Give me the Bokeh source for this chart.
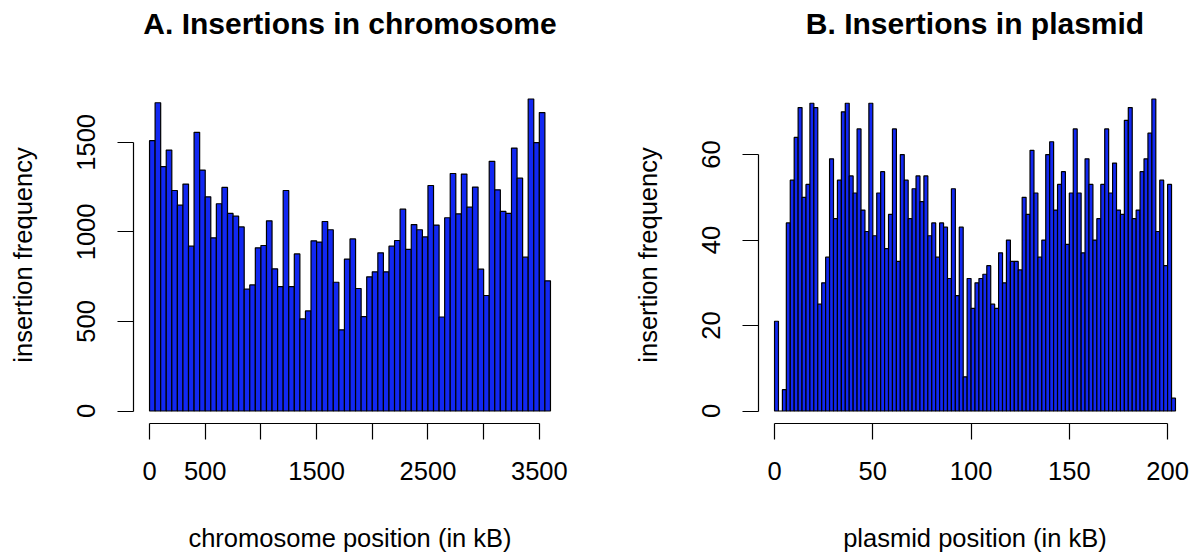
import numpy as np
from bokeh.plotting import figure
from bokeh.layouts import row
from bokeh.models import FixedTicker, Range1d, Title
from bokeh.embed import file_html
from bokeh.resources import INLINE

# ---------------- data ----------------
chrom_title = "A. Insertions in chromosome"
chrom_xlabel = "chromosome position (in kB)"
chrom_bin_kb = 50
chrom_counts = [1509, 1721, 1364, 1457, 1231, 1149, 1267, 920, 1556, 1345,
                1196, 967, 1157, 1248, 1103, 1088, 1028, 680, 704, 911,
                924, 1062, 794, 695, 1231, 695, 877, 514, 559, 950,
                943, 1058, 1012, 719, 453, 848, 961, 684, 527, 749,
                777, 883, 777, 920, 952, 1127, 902, 1041, 1012, 972,
                1259, 1038, 525, 1079, 1326, 1101, 1323, 1138, 1250, 792,
                645, 1394, 1235, 1114, 1103, 1468, 1300, 859, 1742, 1498,
                1666, 727]
chrom_xticks = [0, 500, 1000, 1500, 2000, 2500, 3000, 3500]
chrom_xtick_labels = ["0", "500", "", "1500", "", "2500", "", "3500"]
chrom_yticks = [0, 500, 1000, 1500]

plas_title = "B. Insertions in plasmid"
plas_xlabel = "plasmid position (in kB)"
plas_bin_kb = 2
plas_counts = [21, 0, 5, 44, 54, 64, 71, 50, 53, 72,
               71, 25, 30, 36, 59, 45, 54, 70, 72, 55,
               51, 66, 47, 42, 72, 41, 51, 56, 38, 46,
               66, 35, 60, 54, 45, 52, 55, 49, 55, 41,
               44, 36, 44, 43, 31, 52, 27, 43, 8, 31,
               24, 30, 31, 32, 34, 25, 24, 37, 30, 40,
               35, 35, 33, 50, 46, 61, 51, 36, 40, 60,
               63, 47, 53, 56, 39, 51, 66, 51, 37, 59,
               53, 40, 45, 53, 66, 51, 58, 47, 46, 68,
               71, 45, 47, 56, 59, 65, 73, 42, 54, 34,
               53, 3]
plas_xticks = [0, 50, 100, 150, 200]
plas_xtick_labels = ["0", "50", "100", "150", "200"]
plas_yticks = [0, 20, 40, 60]

ylabel = "insertion frequency"

FONT = "Liberation Sans"
BAR_FILL = "#1228F2"


def hist_panel(title, xlabel, counts, bin_kb, xticks, xtick_labels, yticks,
               border_left, border_right):
    counts = np.asarray(counts, dtype=float)
    left = np.arange(len(counts)) * bin_kb
    right = left + bin_kb
    x0, x1 = 0.0, float(right[-1])
    y0, y1 = 0.0, float(counts.max())
    px = 0.04 * (x1 - x0)
    py = 0.04 * (y1 - y0)

    p = figure(frame_width=433, frame_height=337,
               output_backend="svg", toolbar_location=None,
               x_range=Range1d(x0 - px, x1 + px),
               y_range=Range1d(y0 - py, y1 + py),
               min_border_left=border_left, min_border_right=border_right,
               min_border_top=86, min_border_bottom=130)

    # spacer between frame and title (closest to the frame)
    p.add_layout(Title(text=" ", text_font_size="10px", standoff=34,
                       text_font=FONT), "above")
    p.add_layout(Title(text=title, align="center", text_font=FONT,
                       text_font_size="30px", text_font_style="bold",
                       text_color="black", standoff=0), "above")

    p.quad(left=left, right=right, bottom=0, top=counts,
           fill_color=BAR_FILL, line_color="black", line_width=1.2)

    p.grid.visible = False
    p.outline_line_color = None
    p.background_fill_color = "white"
    p.border_fill_color = "white"

    for ax in (p.xaxis[0], p.yaxis[0]):
        ax.axis_line_color = "black"
        ax.axis_line_width = 1.2
        ax.major_tick_line_color = "black"
        ax.major_tick_line_width = 1.2
        ax.major_tick_out = 16
        ax.major_tick_in = 0
        ax.minor_tick_line_color = None
        ax.major_label_text_font = FONT
        ax.major_label_text_font_size = "25.5px"
        ax.major_label_text_color = "black"
        ax.axis_label_text_font = FONT
        ax.axis_label_text_font_size = "25.5px"
        ax.axis_label_text_font_style = "normal"
        ax.axis_label_text_color = "black"

    xa = p.xaxis[0]
    xa.ticker = FixedTicker(ticks=xticks)
    xa.major_label_overrides = {t: s for t, s in zip(xticks, xtick_labels)}
    xa.bounds = (xticks[0], xticks[-1])
    xa.axis_label = xlabel
    xa.major_label_standoff = 22
    xa.axis_label_standoff = 41

    ya = p.yaxis[0]
    ya.ticker = FixedTicker(ticks=yticks)
    ya.bounds = (yticks[0], yticks[-1])
    ya.axis_label = ylabel
    ya.major_label_orientation = "vertical"
    ya.major_label_standoff = 22
    ya.axis_label_standoff = 38
    return p


p1 = hist_panel(chrom_title, chrom_xlabel, chrom_counts, chrom_bin_kb,
                chrom_xticks, chrom_xtick_labels, chrom_yticks, 133, 58)
p2 = hist_panel(plas_title, plas_xlabel, plas_counts, plas_bin_kb,
                plas_xticks, plas_xtick_labels, plas_yticks, 134, 0)

layout = row(p1, p2)
open("out.html", "w").write(file_html(layout, INLINE))
